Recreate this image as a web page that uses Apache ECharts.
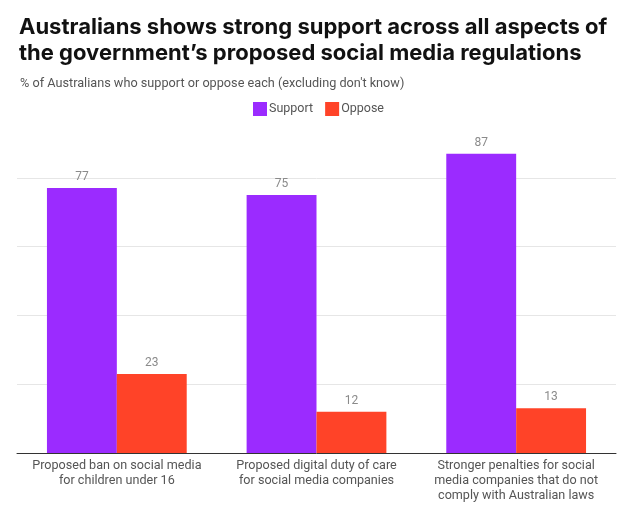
<!DOCTYPE html>
<html>
<head>
<meta charset="utf-8">
<script src="https://cdn.jsdelivr.net/npm/echarts@6/dist/echarts.min.js"></script>
<style>
html,body{margin:0;padding:0;background:#fff;}
#chart{width:637px;height:508px;}
</style>
</head>
<body>
<div id="chart"></div>
<script>
var categories = [
  "Proposed ban on social media\nfor children under 16",
  "Proposed digital duty of care\nfor social media companies",
  "Stronger penalties for social\nmedia companies that do not\ncomply with Australian laws"
];
var supportValues = [77, 75, 87];
var opposeValues = [23, 12, 13];
var seriesNames = ["Support", "Oppose"];
var titleText = "Australians shows strong support across all aspects of\nthe government\u2019s proposed social media regulations";
var subtitleText = "% of Australians who support or oppose each (excluding don't know)";

var chart = echarts.init(document.getElementById('chart'));
var labelStyle = {show: true, position: 'top', distance: 5, color: '#8a8a8a', fontSize: 12, fontFamily: 'Roboto'};
chart.setOption({
  animation: false,
  color: ['#9B2BFF', '#FF4328'],
  title: [{
    text: titleText,
    left: 14, top: 9,
    textStyle: {fontSize: 22, fontWeight: 'bold', color: '#111', lineHeight: 26, fontFamily: 'Inter'}
  }, {
    text: subtitleText,
    left: 15, top: 72,
    textStyle: {fontSize: 12.7, fontWeight: 'normal', color: '#555', fontFamily: 'Roboto'}
  }],
  legend: {
    data: seriesNames,
    top: 97, left: 'center',
    icon: 'rect', itemWidth: 14, itemHeight: 14, itemGap: 12,
    textStyle: {fontSize: 12.5, color: '#555', fontFamily: 'Roboto', padding: [0, 0, 0, -3]}
  },
  grid: {left: 17, right: 21, top: 109, bottom: 55, containLabel: false},
  xAxis: {
    type: 'category',
    data: categories,
    axisLine: {lineStyle: {color: '#333', width: 1}},
    axisTick: {show: false},
    axisLabel: {color: '#555', fontSize: 12.6, lineHeight: 15, margin: 5, fontFamily: 'Roboto', interval: 0}
  },
  yAxis: {
    type: 'value', min: 0, max: 100, interval: 20,
    axisLabel: {show: false},
    axisLine: {show: false},
    axisTick: {show: false},
    splitLine: {lineStyle: {color: '#e6e6e6'}, showMaxLine: false, showMinLine: false}
  },
  series: [{
    name: seriesNames[0], type: 'bar', data: supportValues,
    barWidth: '35%', barGap: '0%', label: labelStyle
  }, {
    name: seriesNames[1], type: 'bar', data: opposeValues,
    barWidth: '35%', barGap: '0%', label: labelStyle
  }]
});
</script>
</body>
</html>
